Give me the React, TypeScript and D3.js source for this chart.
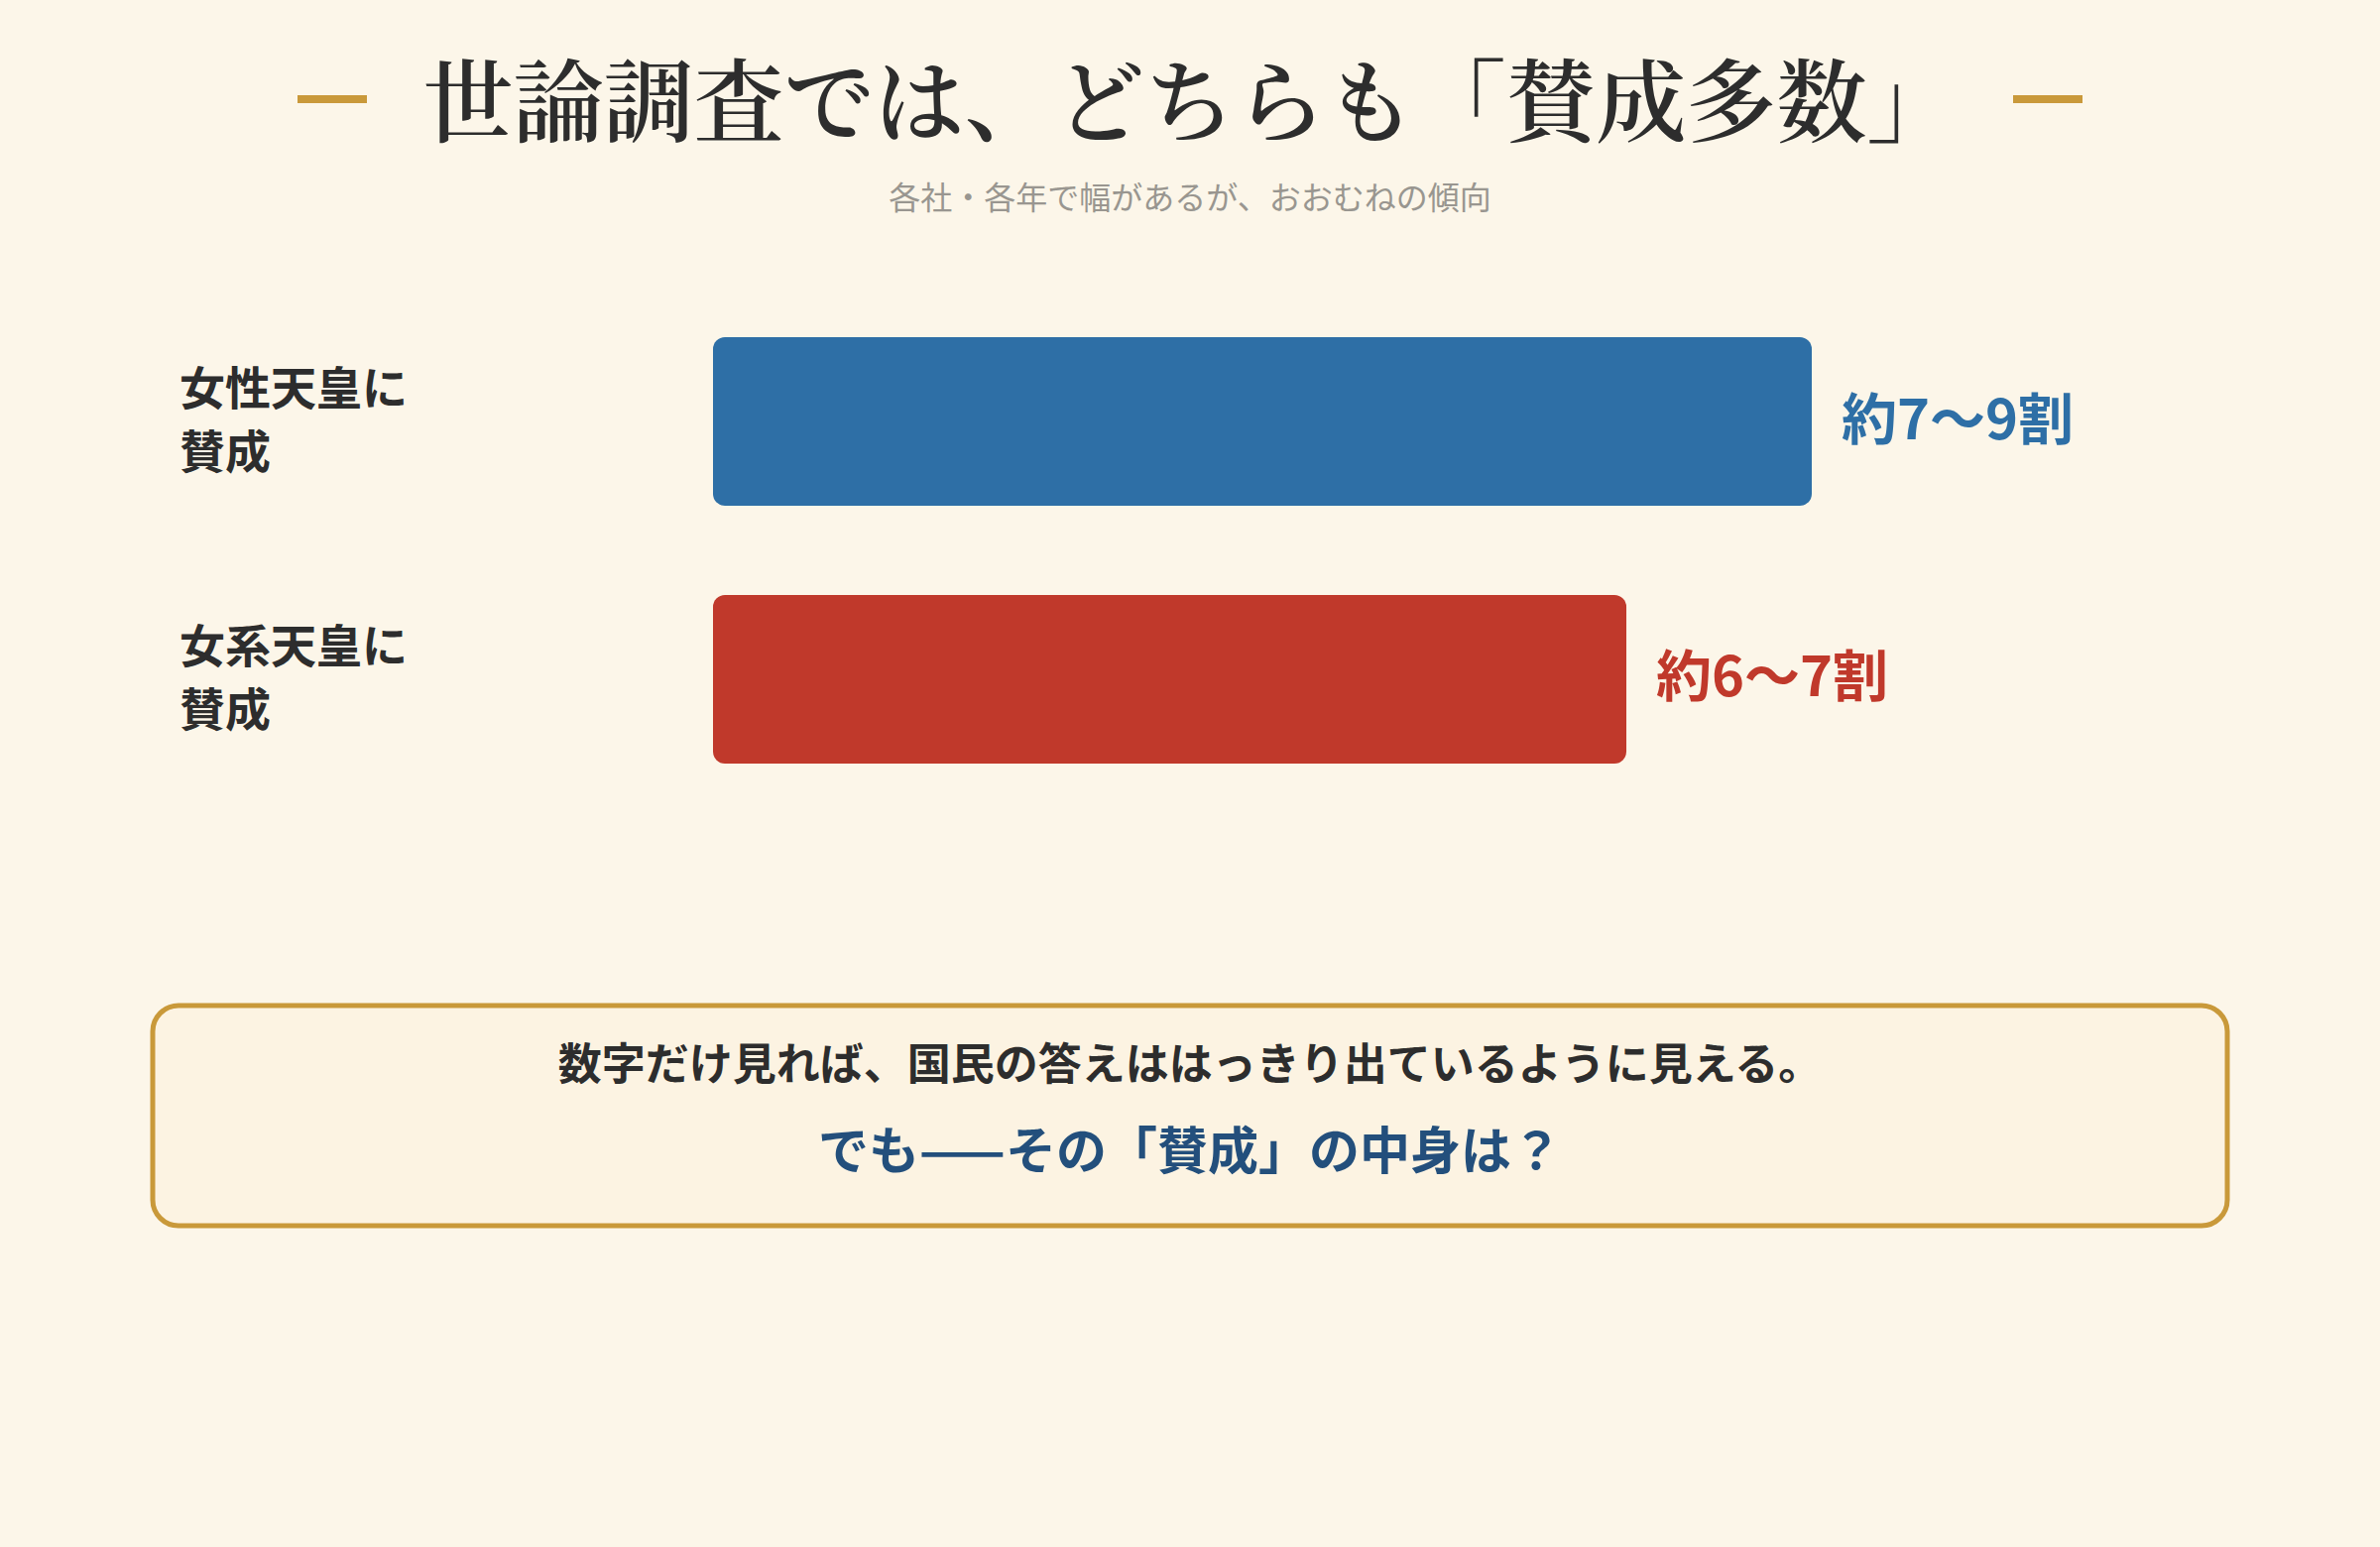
import { useEffect } from "react";
import * as d3 from "d3";

const categories = ["女性天皇に|賛成", "女系天皇に|賛成"];
const values = [80, 66.5];
const valueLabels = ["約7～9割", "約6～7割"];
const colors = ["#2e6fa6", "#c0392b"];

const TITLE = "世論調査では、どちらも「賛成多数」";
const SUBTITLE = "各社・各年で幅があるが、おおむねの傾向";
const NOTE_1 = "数字だけ見れば、国民の答えははっきり出ているように見える。";
const NOTE_2 = "でも——その「賛成」の中身は？";

const WIDTH = 2400;
const HEIGHT = 1560;
const BG = "#fcf6e9";
const GOLD = "#c9993a";
const SANS = "'Noto Sans CJK JP', 'Noto Sans', sans-serif";
const SERIF = "'Noto Serif CJK JP', 'Noto Serif JP', serif";

export default function App() {
  useEffect(() => {
    document.body.style.margin = "0";
    document.body.style.background = BG;
  }, []);

  const x = d3.scaleLinear().domain([0, 100]).range([719, 2104]);
  const y = d3
    .scaleBand<string>()
    .domain(categories)
    .range([340, 770])
    .paddingInner(0.346)
    .paddingOuter(0);

  return (
    <svg width={WIDTH} height={HEIGHT} viewBox={`0 0 ${WIDTH} ${HEIGHT}`} style={{ display: "block" }}>
      <rect x={0} y={0} width={WIDTH} height={HEIGHT} fill={BG} />

      {/* title with gold dashes */}
      <rect x={300} y={96} width={70} height={8} fill={GOLD} />
      <rect x={2030} y={96} width={70} height={8} fill={GOLD} />
      <text
        x={1200}
        y={96}
        textAnchor="middle"
        dominantBaseline="central"
        fontFamily={SERIF}
        fontSize={91}
        fontWeight={600}
        fill="#2d2d2d"
      >
        {TITLE}
      </text>
      <text
        x={1200}
        y={197}
        textAnchor="middle"
        dominantBaseline="central"
        fontFamily={SANS}
        fontSize={32}
        fill="#999690"
      >
        {SUBTITLE}
      </text>

      {/* bars */}
      {categories.map((c, i) => {
        const by = y(c) ?? 0;
        const bh = y.bandwidth();
        const cy = by + bh / 2;
        const lines = c.split("|");
        return (
          <g key={c}>
            <text fontFamily={SANS} fontSize={46} fontWeight={700} fill="#2d2d2d">
              {lines.map((l, j) => (
                <tspan key={j} x={181} y={cy - 37 + j * 64} dominantBaseline="central">
                  {l}
                </tspan>
              ))}
            </text>
            <rect x={x(0)} y={by} width={x(values[i]) - x(0)} height={bh} rx={12} fill={colors[i]} />
            <text
              x={x(values[i]) + 30}
              y={cy - 7}
              dominantBaseline="central"
              fontFamily={SANS}
              fontSize={56}
              fontWeight={700}
              fill={colors[i]}
            >
              {valueLabels[i]}
            </text>
          </g>
        );
      })}

      {/* note box */}
      <rect x={154} y={1014} width={2092} height={222} rx={26} fill="#fcf3e2" stroke={GOLD} strokeWidth={5} />
      <text
        x={1200}
        y={1070}
        textAnchor="middle"
        dominantBaseline="central"
        fontFamily={SANS}
        fontSize={44}
        fontWeight={700}
        fill="#2d2d2d"
      >
        {NOTE_1}
      </text>
      <text
        x={1200}
        y={1157}
        textAnchor="middle"
        dominantBaseline="central"
        fontFamily={SANS}
        fontSize={51}
        fontWeight={700}
        fill="#234f7c"
      >
        {NOTE_2}
      </text>
    </svg>
  );
}
